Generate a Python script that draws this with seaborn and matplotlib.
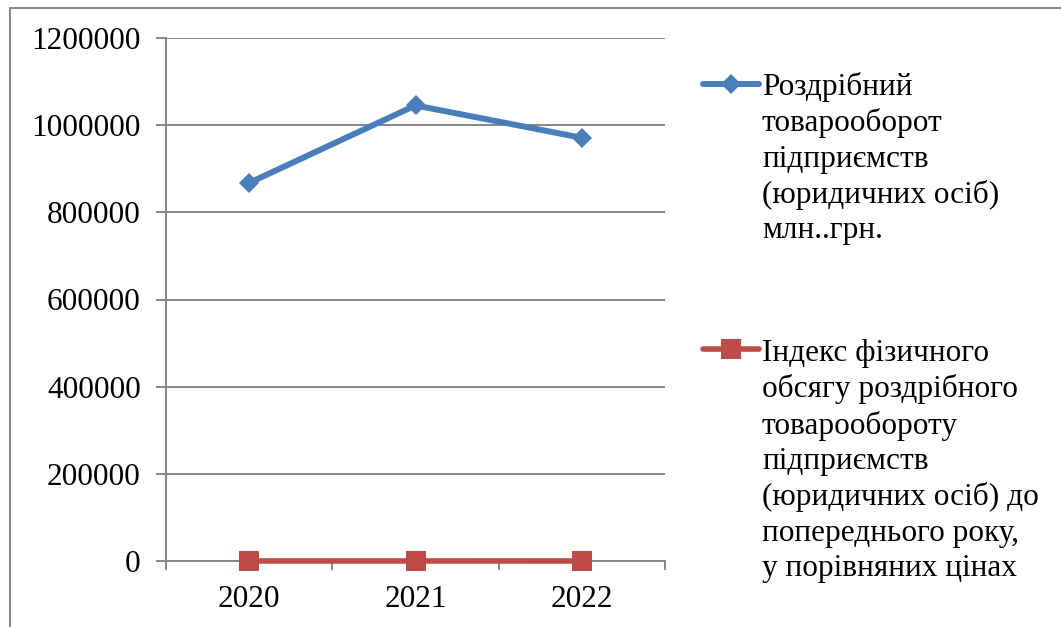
import matplotlib
matplotlib.use("Agg")
import matplotlib.pyplot as plt
from matplotlib.lines import Line2D
from matplotlib.patches import Rectangle
import seaborn as sns
import pandas as pd

years = ["2020", "2021", "2022"]
turnover = [867600, 1045300, 971000]
index_values = [108.4, 110.1, 79.4]
label_turnover = "Роздрібний\nтоварооборот\nпідприємств\n(юридичних осіб)\nмлн..грн."
label_index = ("Індекс фізичного\nобсягу роздрібного\nтовarooбороту\nпідприємств\n"
               "(юридичних осіб) до\nпопереднього року,\nу порівняних цінах")
label_index = label_index.replace("товarooбороту", "товарообороту")
y_ticks = [0, 200000, 400000, 600000, 800000, 1000000, 1200000]

BLUE = "#4A7EBB"
RED = "#BE4B48"
GRAY = "#868686"
FS = 22.5

sns.set_theme(style="white")
plt.rcParams["font.family"] = ["Liberation Serif", "DejaVu Serif"]

df = pd.DataFrame({"year": years * 2,
                   "value": turnover + index_values,
                   "series": ["turnover"] * 3 + ["index"] * 3})

fig = plt.figure(figsize=(10.61, 6.27), dpi=100)
ax = fig.add_axes([166 / 1061, 1 - 561 / 627, 499 / 1061, (561 - 38) / 627])

sns.lineplot(data=df[df.series == "turnover"], x="year", y="value", ax=ax,
             color=BLUE, lw=4.3, marker="D", markersize=10.5, markeredgewidth=0,
             sort=False, legend=False, zorder=5, clip_on=False)
sns.lineplot(data=df[df.series == "index"], x="year", y="value", ax=ax,
             color=RED, lw=4.0, marker="s", markersize=14.5, markeredgewidth=0,
             sort=False, legend=False, zorder=5, clip_on=False)

ax.set_xlim(-0.5, 2.5)
ax.set_ylim(0, 1200000)
ax.set_yticks(y_ticks)
ax.set_yticklabels([str(v) for v in y_ticks])
ax.set_xticks([0, 1, 2])
ax.set_xticklabels(years)
ax.set_xticks([-0.5, 0.5, 1.5, 2.5], minor=True)
ax.set_xlabel("")
ax.set_ylabel("")

ax.yaxis.grid(True, color=GRAY, lw=1.4)
ax.set_axisbelow(True)
for side in ["top", "right"]:
    ax.spines[side].set_visible(False)
for side in ["left", "bottom"]:
    ax.spines[side].set_color(GRAY)
    ax.spines[side].set_linewidth(1.4)

ax.tick_params(axis="y", which="major", left=True, length=7.2, width=1.4,
               color=GRAY, labelsize=FS, pad=11, labelcolor="black")
ax.tick_params(axis="x", which="major", bottom=False, length=0,
               labelsize=FS, pad=17, labelcolor="black")
ax.tick_params(axis="x", which="minor", bottom=True, length=6.5, width=1.4,
               color=GRAY)

# Legend (Excel-style, handle aligned to first text line)
for y_px, text_top, color, marker, ms, lw, label in [
        (84, 72, BLUE, "D", 10.5, 4.3, label_turnover),
        (349, 339, RED, "s", 14.5, 4.0, label_index)]:
    yf = 1 - y_px / 627
    fig.add_artist(Line2D([703 / 1061, 759 / 1061], [yf, yf], color=color, lw=lw,
                          transform=fig.transFigure))
    fig.add_artist(Line2D([731 / 1061], [yf], color=color, marker=marker,
                          markersize=ms, markeredgewidth=0, lw=0,
                          transform=fig.transFigure))
    fig.text(762 / 1061, 1 - text_top / 627, label, fontsize=FS,
             va="top", ha="left", linespacing=1.28, color="black")

fig.add_artist(Rectangle((10 / 1061, -0.2), 1.5, 0.2 + (1 - 8 / 627),
                         transform=fig.transFigure, fill=False,
                         edgecolor=GRAY, lw=1.4))

fig.savefig("out.png", dpi=100)
